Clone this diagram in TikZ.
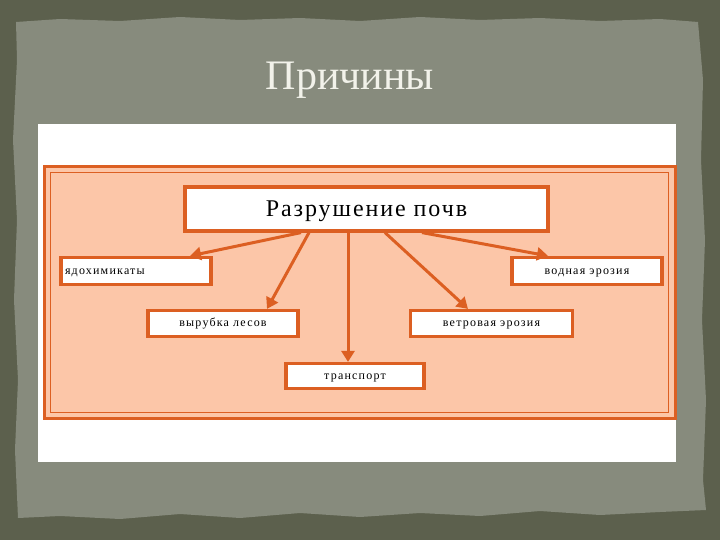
\documentclass[tikz,border=0pt]{standalone}
\usepackage{fontspec}
\setmainfont{Liberation Serif}
\usetikzlibrary{arrows.meta}
\definecolor{outerbg}{HTML}{5C604D}
\definecolor{panel}{HTML}{878B7D}
\definecolor{titlecol}{HTML}{F2F2EA}
\definecolor{orng}{HTML}{DC5F22}
\definecolor{pinkbg}{HTML}{FCC6A8}
\tikzset{
  cause/.style={draw=orng, line width=3.2pt, fill=white, inner sep=0pt, text height=6pt, text depth=0pt, font=\fontsize{12}{14}\selectfont\addfontfeatures{LetterSpace=10}},
  mainbox/.style={draw=orng, line width=3.2pt, fill=white, inner sep=0pt, text height=14pt, text depth=0pt, font=\fontsize{24}{27}\selectfont\addfontfeatures{LetterSpace=8}},
  arr/.style={draw=orng, line width=3pt, -{Triangle[length=11pt,width=13pt]}}
}
\begin{document}
\begin{tikzpicture}[x=1pt,y=-1pt]
\useasboundingbox (0,0) rectangle (720,540);
\fill[outerbg] (0,0) rectangle (720,540);
% ragged panel
\fill[panel] (16,22) -- (60,19) -- (120,21) -- (180,17) -- (240,20) -- (300,18) -- (360,21) -- (420,17) -- (480,20) -- (540,18) -- (600,21) -- (660,19) -- (698,22)
  -- (703,80) -- (701,160) -- (705,240) -- (702,320) -- (706,400) -- (703,480) -- (706,510)
  -- (660,512) -- (600,515) -- (540,511) -- (480,516) -- (420,513) -- (360,517) -- (300,513) -- (240,518) -- (180,514) -- (120,519) -- (60,516) -- (18,518)
  -- (15,450) -- (18,380) -- (14,300) -- (17,220) -- (13,140) -- (17,60) -- cycle;
\node[text=titlecol, font=\fontsize{42}{46}\selectfont] (title) at (350,80) {Причины};
% white sheet
\fill[white] (38,124) rectangle (676,462);
% pink frame
\fill[pinkbg] (44,167) rectangle (675,418);
\draw[orng, line width=3pt] (44,167) rectangle (675,418);
\draw[orng, line width=1.4pt] (50.5,172.5) rectangle (668.5,412.5);
% boxes
\node[mainbox, minimum width=363pt, minimum height=44pt] (main) at (366.5,209) {Разрушение почв};
\node[cause, minimum width=150pt, minimum height=27pt, text width=142pt, align=left] (yad) at (136,271) {ядохимикаты};
\node[cause, minimum width=150pt, minimum height=27pt] (vod) at (587,271) {водная эрозия};
\node[cause, minimum width=150pt, minimum height=26pt] (vyr) at (223,323.5) {вырубка лесов};
\node[cause, minimum width=162pt, minimum height=26pt] (vet) at (491.5,323.5) {ветровая эрозия};
\node[cause, minimum width=138pt, minimum height=25pt] (tr) at (355,376) {транспорт};
% arrows
\draw[arr] ([xshift=-65.5pt]main.south) -- ([xshift=54pt]yad.north);
\draw[arr] ([xshift=-57.5pt]main.south) -- ([xshift=44pt]vyr.north);
\draw[arr] ([xshift=-18.5pt]main.south) -- ([xshift=-7pt]tr.north);
\draw[arr] ([xshift=18.5pt]main.south) -- ([xshift=-23.5pt]vet.north);
\draw[arr] ([xshift=55.5pt]main.south) -- ([xshift=-39pt]vod.north);
\end{tikzpicture}
\end{document}
